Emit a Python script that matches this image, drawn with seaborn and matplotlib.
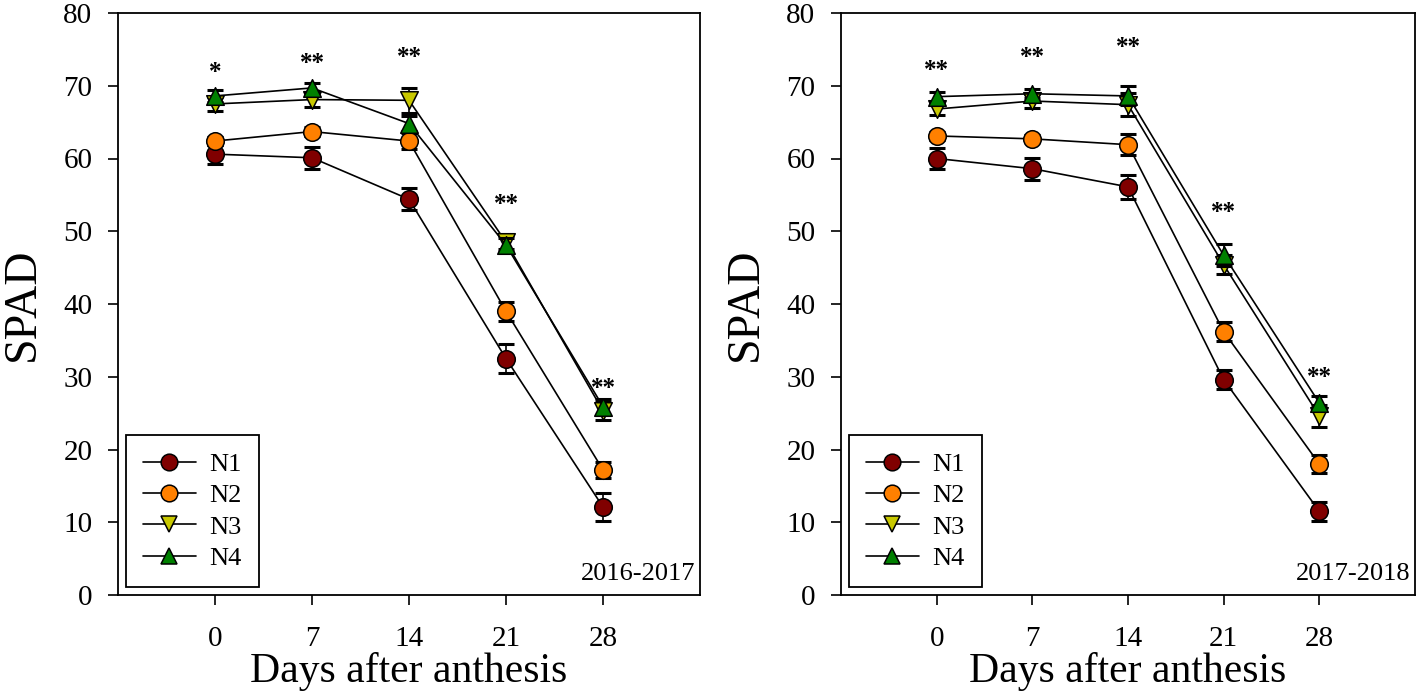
import matplotlib
matplotlib.use("Agg")
import matplotlib.pyplot as plt
import pandas as pd
import seaborn as sns
from matplotlib.lines import Line2D

# ---------------- data ----------------
days = [0, 7, 14, 21, 28]
treatments = ["N1", "N2", "N3", "N4"]
seasons = ["2016-2017", "2017-2018"]

# 2016-2017 means and error bars
n1_1617 = [60.6, 60.1, 54.4, 32.5, 12.1]
n2_1617 = [62.4, 63.7, 62.4, 39.0, 17.2]
n3_1617 = [67.5, 68.1, 68.0, 48.5, 25.3]
n4_1617 = [68.6, 69.7, 64.8, 48.1, 25.9]
e1_1617 = [1.3, 1.5, 1.5, 2.0, 1.9]
e2_1617 = [0.6, 0.6, 1.1, 1.3, 1.1]
e3_1617 = [1.0, 1.0, 1.7, 1.0, 1.2]
e4_1617 = [0.8, 0.7, 1.0, 1.0, 1.1]

# 2017-2018 means and error bars
n1_1718 = [60.0, 58.6, 56.1, 29.6, 11.5]
n2_1718 = [63.1, 62.7, 61.9, 36.2, 18.0]
n3_1718 = [66.8, 67.9, 67.4, 45.4, 24.6]
n4_1718 = [68.5, 68.9, 68.6, 46.7, 26.4]
e1_1718 = [1.45, 1.5, 1.6, 1.3, 1.35]
e2_1718 = [0.5, 0.5, 1.4, 1.35, 1.25]
e3_1718 = [0.8, 0.9, 1.6, 1.3, 1.5]
e4_1718 = [0.7, 0.6, 1.3, 1.5, 1.0]

# significance marks and their heights
sig_1617 = ["*", "**", "**", "**", "**"]
sig_y_1617 = [71.8, 73.1, 73.9, 53.7, 28.4]
sig_1718 = ["**", "**", "**", "**", "**"]
sig_y_1718 = [72.1, 73.9, 75.3, 52.6, 29.9]

colors = ["#800000", "#FF8000", "#C8C800", "#008000"]
markers = ["o", "o", "v", "^"]

means = [[n1_1617, n2_1617, n3_1617, n4_1617], [n1_1718, n2_1718, n3_1718, n4_1718]]
errs = [[e1_1617, e2_1617, e3_1617, e4_1617], [e1_1718, e2_1718, e3_1718, e4_1718]]
sigs = [sig_1617, sig_1718]
sig_ys = [sig_y_1617, sig_y_1718]

# ---------------- style ----------------
sns.set_theme(style="ticks")
plt.rcParams["font.family"] = ["Liberation Serif", "DejaVu Serif"]
plt.rcParams["axes.edgecolor"] = "black"
plt.rcParams["axes.linewidth"] = 1.3
plt.rcParams["text.color"] = "black"
plt.rcParams["axes.labelcolor"] = "black"
plt.rcParams["xtick.color"] = "black"
plt.rcParams["ytick.color"] = "black"

fig = plt.figure(figsize=(14.18, 6.95), dpi=100)
W, H = 1418, 695
ax1 = fig.add_axes([118 / W, 1 - 595 / H, (700 - 118) / W, (595 - 13) / H])
ax2 = fig.add_axes([841 / W, 1 - 595 / H, (1415 - 841) / W, (595 - 13) / H])

for ax, season, m_list, e_list, sg, sgy in zip([ax1, ax2], seasons, means, errs, sigs, sig_ys):
    rows = []
    for t, mv, ev in zip(treatments, m_list, e_list):
        for d, v, e in zip(days, mv, ev):
            rows.append({"day": d, "spad": v, "err": e, "trt": t})
    df = pd.DataFrame(rows)

    for i, (t, c, mk) in enumerate(zip(treatments, colors, markers)):
        sub = df[df["trt"] == t]
        z = 2 + i
        sns.lineplot(data=sub, x="day", y="spad", color="black", linewidth=1.2,
                     ax=ax, errorbar=None, legend=False, zorder=z)
        ax.errorbar(sub["day"], sub["spad"], yerr=sub["err"], fmt="none",
                    ecolor="black", elinewidth=1.2, capsize=6, capthick=2.2,
                    zorder=z + 0.1)
        sns.scatterplot(data=sub, x="day", y="spad", marker=mk, color=c,
                        edgecolor="black", linewidth=1.1, s=160, ax=ax,
                        legend=False, zorder=z + 0.2)

    for d, s, y in zip(days, sg, sgy):
        ax.text(d, y, s, ha="center", va="center", fontsize=18,
                fontweight="bold", zorder=10)

    ax.set_xlim(-7, 35)
    ax.set_ylim(0, 80)
    ax.set_xticks(days)
    ax.set_yticks(range(0, 81, 10))
    ax.tick_params(axis="both", direction="out", length=7.5, width=1.2,
                   labelsize=21, colors="black")
    ax.tick_params(axis="x", pad=15)
    ax.tick_params(axis="y", pad=11)
    ax.set_xlabel("Days after anthesis", fontsize=30, labelpad=0)
    ax.set_ylabel("SPAD", fontsize=33, labelpad=14)
    for sp in ax.spines.values():
        sp.set_visible(True)
        sp.set_color("black")
        sp.set_linewidth(1.3)

    ax.text(0.992, 0.018, season, transform=ax.transAxes, ha="right",
            va="bottom", fontsize=19)

    handles = [Line2D([0], [0], color="black", lw=1.2, marker=mk, markersize=12,
                      markerfacecolor=c, markeredgecolor="black", markeredgewidth=1.1)
               for c, mk in zip(colors, markers)]
    leg = ax.legend(handles, treatments, loc="lower left", borderaxespad=0.3,
                    frameon=True, fancybox=False, edgecolor="black", fontsize=19,
                    handlelength=2.0, handletextpad=0.5, labelspacing=0.3,
                    borderpad=0.65, framealpha=1)
    leg.get_frame().set_linewidth(1.3)

fig.savefig("out.png", dpi=100)
